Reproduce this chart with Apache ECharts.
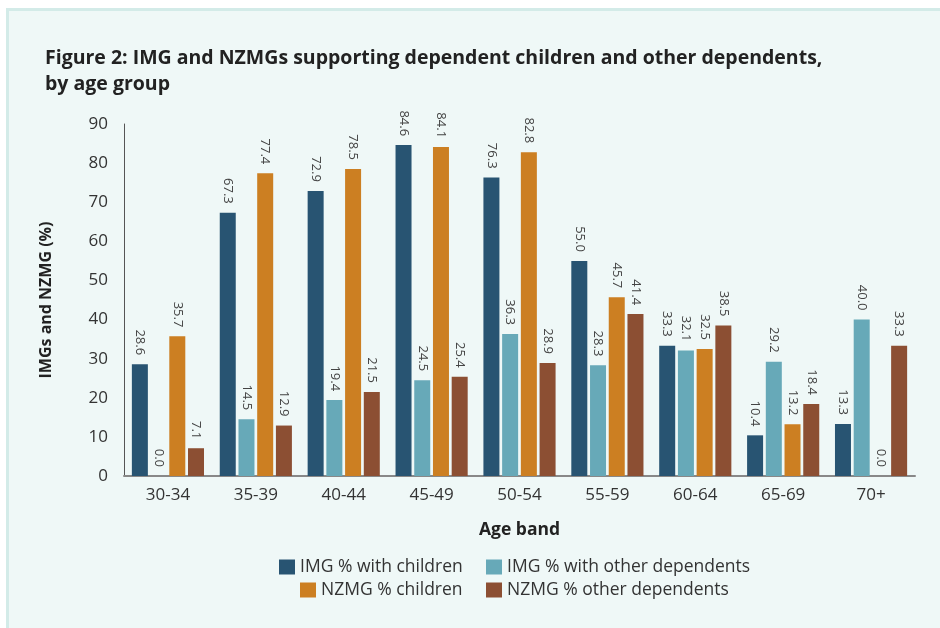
<!DOCTYPE html>
<html>
<head>
<meta charset="utf-8">
<script src="https://cdn.jsdelivr.net/npm/echarts@6/dist/echarts.min.js"></script>
<style>
  html, body { margin: 0; padding: 0; background: #ffffff; }
  #panel {
    position: absolute; left: 6px; top: 8px; right: 0; bottom: 0;
    background: #eff8f7;
    border-left: 3px solid #d3ebe8;
    border-top: 3px solid #d3ebe8;
  }
  #chart { position: absolute; left: 0; top: 0; width: 940px; height: 628px; }
</style>
</head>
<body>
<div id="panel"></div>
<div id="chart"></div>
<script>
// Age bands along the x axis
const ageBands = ['30-34', '35-39', '40-44', '45-49', '50-54', '55-59', '60-64', '65-69', '70+'];

// Share of each group supporting dependants (%)
const imgChildren = [28.6, 67.3, 72.9, 84.6, 76.3, 55.0, 33.3, 10.4, 13.3];
const imgOther    = [0.0, 14.5, 19.4, 24.5, 36.3, 28.3, 32.1, 29.2, 40.0];
const nzmgChildren = [35.7, 77.4, 78.5, 84.1, 82.8, 45.7, 32.5, 13.2, 0.0];
const nzmgOther    = [7.1, 12.9, 21.5, 25.4, 28.9, 41.4, 38.5, 18.4, 33.3];

const seriesNames = [
  'IMG % with children',
  'IMG % with other dependents',
  'NZMG % children',
  'NZMG % other dependents'
];
const yTicks = { min: 0, max: 90, interval: 10 };

const FONT = '"Open Sans", "Noto Sans", sans-serif';
const colors = ['#285472', '#67a9b8', '#cc7f22', '#8c4f33'];

const valueLabel = {
  show: true,
  position: 'top',
  rotate: -90,
  align: 'right',
  verticalAlign: 'middle',
  distance: 9,
  fontFamily: FONT,
  fontSize: 13,
  color: '#444',
  formatter: p => p.value.toFixed(1)
};

function barSeries(name, data, i) {
  return {
    name: name,
    type: 'bar',
    data: data,
    barWidth: 16,
    barGap: '17%',
    itemStyle: { color: colors[i] },
    label: valueLabel
  };
}

const legendBase = {
  itemWidth: 16,
  itemHeight: 15,
  icon: 'rect',
  textStyle: { fontFamily: FONT, fontSize: 17.5, color: '#333' },
  itemGap: 8
};

const chart = echarts.init(document.getElementById('chart'), null, { renderer: 'canvas' });
chart.setOption({
  backgroundColor: 'transparent',
  animation: false,
  title: {
    text: 'Figure 2: IMG and NZMGs supporting dependent children and other dependents,\nby age group',
    left: 40,
    top: 40,
    textStyle: {
      fontFamily: FONT, fontSize: 19.5, fontWeight: 'bold', color: '#222', lineHeight: 26
    }
  },
  legend: [
    Object.assign({}, legendBase, { data: [seriesNames[0]], left: 274, top: 553 }),
    Object.assign({}, legendBase, { data: [seriesNames[1]], left: 481, top: 553 }),
    Object.assign({}, legendBase, { data: [seriesNames[2]], left: 295, top: 576 }),
    Object.assign({}, legendBase, { data: [seriesNames[3]], left: 481, top: 576 })
  ],
  grid: { left: 124, right: 25, top: 124, bottom: 152, containLabel: false },
  xAxis: {
    type: 'category',
    data: ageBands,
    name: 'Age band',
    nameLocation: 'middle',
    nameGap: 45,
    nameTextStyle: { fontFamily: FONT, fontSize: 17.5, fontWeight: 'bold', color: '#222' },
    axisLine: { lineStyle: { color: '#888', width: 2 } },
    axisTick: { show: false },
    axisLabel: { fontFamily: FONT, fontSize: 17, color: '#333', margin: 11 }
  },
  yAxis: {
    type: 'value',
    min: yTicks.min,
    max: yTicks.max,
    interval: yTicks.interval,
    name: 'IMGs and NZMG (%)',
    nameLocation: 'middle',
    nameGap: 70,
    nameTextStyle: { fontFamily: FONT, fontSize: 16, fontWeight: 'bold', color: '#222' },
    axisLine: { show: true, lineStyle: { color: '#555', width: 1 } },
    axisTick: { show: false },
    splitLine: { show: false },
    axisLabel: { fontFamily: FONT, fontSize: 17, color: '#333', margin: 16 }
  },
  series: [
    barSeries(seriesNames[0], imgChildren, 0),
    barSeries(seriesNames[1], imgOther, 1),
    barSeries(seriesNames[2], nzmgChildren, 2),
    barSeries(seriesNames[3], nzmgOther, 3)
  ]
});
</script>
</body>
</html>
